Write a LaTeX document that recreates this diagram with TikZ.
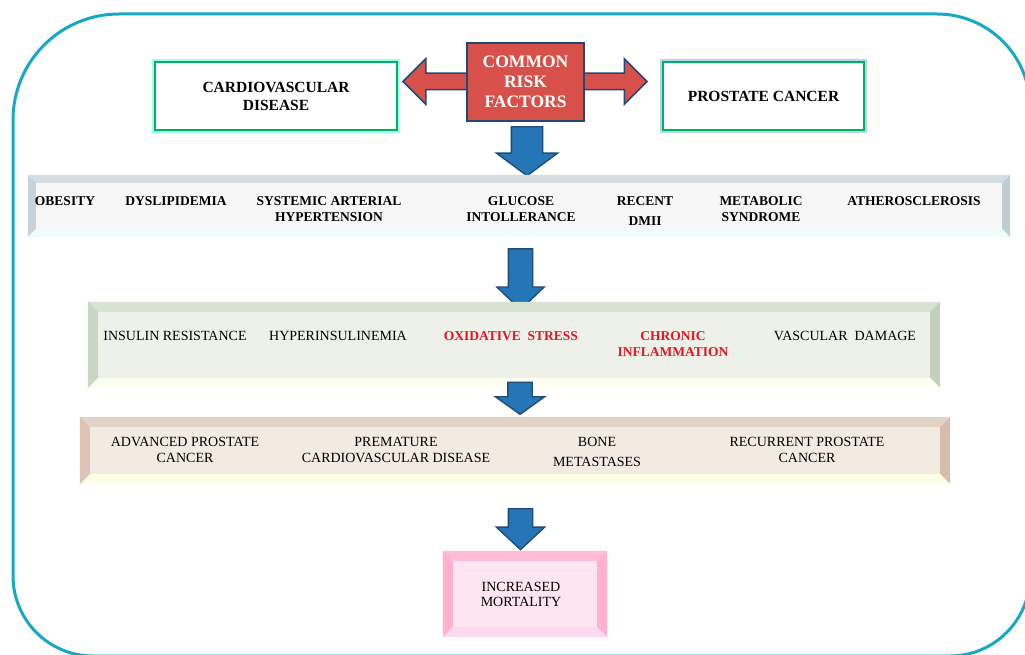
\documentclass[tikz,border=0pt]{standalone}
\usepackage{fontspec}
\setmainfont{Liberation Serif}
\usetikzlibrary{shapes.arrows,calc}

\definecolor{framecol}{RGB}{22,168,196}
\definecolor{crfred}{RGB}{216,80,74}
\definecolor{navyline}{RGB}{30,74,120}
\definecolor{arrowblue}{RGB}{38,118,183}
\definecolor{cvdline}{RGB}{0,180,90}
\definecolor{cvdglow}{RGB}{120,250,250}
\definecolor{pcaglow}{RGB}{150,195,240}
\definecolor{hotred}{RGB}{230,20,30}
\definecolor{rface}{RGB}{247,247,247}
\definecolor{rtop}{RGB}{214,221,226}
\definecolor{rleft}{RGB}{200,210,216}
\definecolor{rright}{RGB}{192,203,210}
\definecolor{rbot}{RGB}{238,252,252}
\definecolor{mface}{RGB}{238,240,234}
\definecolor{mtop}{RGB}{214,226,210}
\definecolor{mleft}{RGB}{200,214,194}
\definecolor{mright}{RGB}{196,208,188}
\definecolor{mbot}{RGB}{253,254,242}
\definecolor{oface}{RGB}{243,235,226}
\definecolor{otop}{RGB}{226,211,199}
\definecolor{oleft}{RGB}{221,194,181}
\definecolor{oright}{RGB}{214,188,175}
\definecolor{obot}{RGB}{254,253,230}
\definecolor{dface}{RGB}{255,229,240}
\definecolor{dtop}{RGB}{255,188,212}
\definecolor{dside}{RGB}{255,178,205}
\definecolor{dbot}{RGB}{255,216,242}

% bevel strips round a band node: name, width, top, left, right, bottom
\newcommand{\bevelbox}[6]{%
  \fill[#3] (#1.north west) -- (#1.north east) -- ($(#1.north east)+(-#2,#2)$) -- ($(#1.north west)+(#2,#2)$) -- cycle;
  \fill[#4] (#1.north west) -- ($(#1.north west)+(#2,#2)$) -- ($(#1.south west)+(#2,-#2)$) -- (#1.south west) -- cycle;
  \fill[#5] (#1.north east) -- ($(#1.north east)+(-#2,#2)$) -- ($(#1.south east)+(-#2,-#2)$) -- (#1.south east) -- cycle;
  \fill[#6] (#1.south west) -- ($(#1.south west)+(#2,-#2)$) -- ($(#1.south east)+(-#2,-#2)$) -- (#1.south east) -- cycle;
}

\begin{document}
\begin{tikzpicture}[x=1pt,y=-1pt]
  \tikzset{boxed/.style = {shape=rectangle,inner sep=0pt,line width=1.6pt,draw=cvdline,fill=white,align=center,
      font=\fontsize{15.5pt}{18pt}\selectfont\bfseries}}
  \tikzset{band/.style = {shape=rectangle,inner sep=0pt}}
  \tikzset{risklbl/.style = {align=center,inner sep=0pt,font=\fontsize{13.5pt}{16pt}\selectfont\bfseries}}
  \tikzset{lbl/.style = {align=center,inner sep=0pt,font=\fontsize{14pt}{16.5pt}\selectfont}}
  \tikzset{hotlbl/.style = {risklbl,text=hotred}}
  \tikzset{downarrow/.style = {single arrow,draw=navyline,fill=arrowblue,line width=1.3pt,
      inner xsep=0pt,single arrow head indent=0pt,rotate=-90}}

  \useasboundingbox (0,0) rectangle (1025,655);
  \begin{scope}
    \clip (0,0) rectangle (1025,655);
    \draw[framecol,line width=3pt] (13,350) [rounded corners=106pt] -- (13,14)
      [rounded corners=93pt] -- (1030,14) [rounded corners=80pt] -- (1030,656) -- (13,656)
      [sharp corners] -- cycle;
  \end{scope}

	% top boxes
	\node[boxed,minimum width=242pt,minimum height=68pt,
	  preaction={draw=cvdglow,line width=6pt,opacity=.7}] (cvd) at (276,96) {CARDIOVASCULAR\\DISEASE};
	\node[boxed,minimum width=201pt,minimum height=68pt,
	  preaction={draw=pcaglow,line width=6pt,opacity=.7}] (pca) at (763.5,96) {PROSTATE CANCER};

	\node[double arrow,draw=navyline,fill=crfred,line width=1.5pt,minimum height=244pt,
	  inner ysep=7.5pt,inner xsep=0pt,double arrow head extend=14.5pt,
	  double arrow tip angle=90,double arrow head indent=0pt] (dbl) at (525,81.5) {};
	\node[downarrow,minimum height=49pt,inner ysep=15pt,single arrow head extend=15pt,
	  single arrow tip angle=107] (a1) at (527,145.5) {};
	\node[shape=rectangle,draw=navyline,fill=crfred,line width=1.5pt,minimum width=117pt,
	  minimum height=78pt,align=center,text=white,
	  font=\fontsize{17.5pt}{20pt}\selectfont\bfseries] (crf) at (525.5,82) {COMMON\\RISK\\FACTORS};

	% risk factors
	\node[band,fill=rface,minimum width=982pt,minimum height=62pt] (risk) at (519,206) {};
	\bevelbox{risk}{8}{rtop}{rleft}{rright}{rbot}
		\node[risklbl] (obes) at (65,201) {OBESITY};
		\node[risklbl] (dysl) at (176,201) {DYSLIPIDEMIA};
		\node[risklbl] (sah) at (329,209) {SYSTEMIC ARTERIAL\\HYPERTENSION};
		\node[risklbl] (gluc) at (521,209) {GLUCOSE\\INTOLLERANCE};
		\node[risklbl] (dmii) at (645,211) {RECENT\\[4pt]DMII};
		\node[risklbl] (mets) at (761,209) {METABOLIC\\SYNDROME};
		\node[risklbl] (athe) at (914,201) {ATHEROSCLEROSIS};

	\node[downarrow,minimum height=61pt,inner ysep=11.5pt,single arrow head extend=11.5pt,
	  single arrow tip angle=92] (a2) at (520.5,273.5) {};

	% mechanisms
	\node[band,fill=mface,minimum width=852pt,minimum height=86pt] (mech) at (514,345) {};
	\bevelbox{mech}{10}{mtop}{mleft}{mright}{mbot}
		\node[lbl] (insr) at (175,336) {INSULIN RESISTANCE};
		\node[lbl] (hins) at (338,336) {HYPERINSULINEMIA};
		\node[hotlbl] (oxst) at (511,336) {OXIDATIVE\ \ STRESS};
		\node[hotlbl] (chin) at (673,344.5) {CHRONIC\\INFLAMMATION};
		\node[lbl] (vasd) at (845,336) {VASCULAR\ \ DAMAGE};

	\node[downarrow,minimum height=32pt,inner ysep=11.5pt,single arrow head extend=12.5pt,
	  single arrow tip angle=109] (a3) at (520,394) {};

	% outcomes
	\node[band,fill=oface,minimum width=870pt,minimum height=67pt] (outc) at (515,450.5) {};
	\bevelbox{outc}{10}{otop}{oleft}{oright}{obot}
		\node[lbl] (apc) at (185,450) {ADVANCED PROSTATE\\CANCER};
		\node[lbl] (pcvd) at (396,450) {PREMATURE\\CARDIOVASCULAR DISEASE};
		\node[lbl] (bone) at (597,452) {BONE\\[4pt]METASTASES};
		\node[lbl] (rpc) at (807,450) {RECURRENT PROSTATE\\CANCER};

	\node[downarrow,minimum height=41pt,inner ysep=11.5pt,single arrow head extend=12pt,
	  single arrow tip angle=94] (a4) at (520.5,523.5) {};

	% mortality
	\node[band,fill=dface,minimum width=164pt,minimum height=86pt] (mort) at (525,594) {};
	\bevelbox{mort}{10}{dtop}{dside}{dside}{dbot}
		\node[lbl,font=\fontsize{14pt}{15pt}\selectfont] (incm) at (521,594.5) {INCREASED\\MORTALITY};

\end{tikzpicture}
\end{document}
